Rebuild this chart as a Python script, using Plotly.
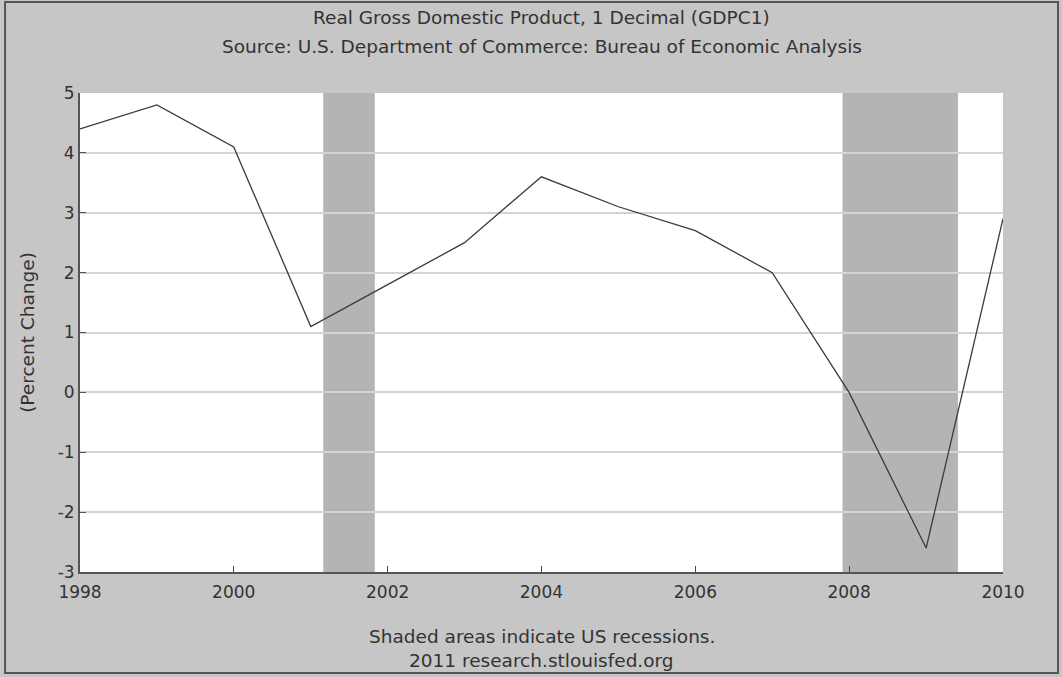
import plotly.graph_objects as go

years = ["1998-01-01", "1999-01-01", "2000-01-01", "2001-01-01", "2002-01-01",
         "2003-01-01", "2004-01-01", "2005-01-01", "2006-01-01", "2007-01-01",
         "2008-01-01", "2009-01-01", "2010-01-01"]
gdp_change = [4.4, 4.8, 4.1, 1.1, 1.8, 2.5, 3.6, 3.1, 2.7, 2.0, 0.0, -2.6, 2.9]

recession_starts = ["2001-03-01", "2007-12-01"]
recession_ends = ["2001-11-01", "2009-06-01"]

x_ticks = ["1998-01-01", "2000-01-01", "2002-01-01", "2004-01-01",
           "2006-01-01", "2008-01-01", "2010-01-01"]
x_tick_labels = ["1998", "2000", "2002", "2004", "2006", "2008", "2010"]
y_ticks = [-3, -2, -1, 0, 1, 2, 3, 4, 5]
y_tick_labels = ["-3", "-2", "-1", "0", "1", "2", "3", "4", "5"]

FONT = "DejaVu Sans"
TXT = "#333333"

fig = go.Figure()
fig.add_trace(go.Scatter(x=years, y=gdp_change, mode="lines",
                         line=dict(color="#3a3a3a", width=1.3),
                         showlegend=False, hoverinfo="x+y"))

shapes = []
for s, e in zip(recession_starts, recession_ends):
    shapes.append(dict(type="rect", xref="x", yref="paper", x0=s, x1=e, y0=0, y1=1,
                       fillcolor="#b4b4b4", line=dict(width=0), layer="below"))
# outer frame
shapes.append(dict(type="rect", xref="paper", yref="paper",
                   x0=-0.0812, x1=1.0596, y0=-0.211, y1=1.190,
                   line=dict(color="#555555", width=2), fillcolor="rgba(0,0,0,0)"))

def ann(text, y):
    return dict(text=text, xref="paper", yref="paper", x=0.5, y=y,
                xanchor="center", yanchor="middle", showarrow=False,
                font=dict(family=FONT, size=18.5, color=TXT))

fig.update_layout(
    width=1062, height=677,
    margin=dict(l=80, r=59, t=93, b=105, autoexpand=False),
    paper_bgcolor="#c6c6c6",
    plot_bgcolor="#ffffff",
    font=dict(family=FONT, size=17, color=TXT),
    shapes=shapes,
    annotations=[
        ann("Real Gross Domestic Product, 1 Decimal (GDPC1)", 1.157),
        ann("Source: U.S. Department of Commerce: Bureau of Economic Analysis", 1.097),
        ann("Shaded areas indicate US recessions.", -0.134),
        ann("2011 research.stlouisfed.org", -0.184),
    ],
    xaxis=dict(type="date", range=["1998-01-01", "2010-01-01"],
               tickvals=x_ticks, ticktext=x_tick_labels,
               ticks="inside", ticklen=6, tickcolor="#444444",
               ticklabelstandoff=4,
               showgrid=False, showline=True, linecolor="#555555", linewidth=2,
               tickfont=dict(size=17, color=TXT), zeroline=False),
    yaxis=dict(range=[-3, 5], tickvals=y_ticks, ticktext=y_tick_labels,
               ticks="inside", ticklen=6, tickcolor="#555555",
               showgrid=True, gridcolor="#d4d4d4", gridwidth=2,
               showline=True, linecolor="#555555", linewidth=2,
               zeroline=False, tickfont=dict(size=17, color=TXT),
               title=dict(text="(Percent Change)", standoff=18,
                          font=dict(size=18.5, color=TXT))),
)

fig.write_html("out.html", config={"displayModeBar": False},
               post_script="document.body.style.margin='0';document.body.style.overflow='hidden';")
